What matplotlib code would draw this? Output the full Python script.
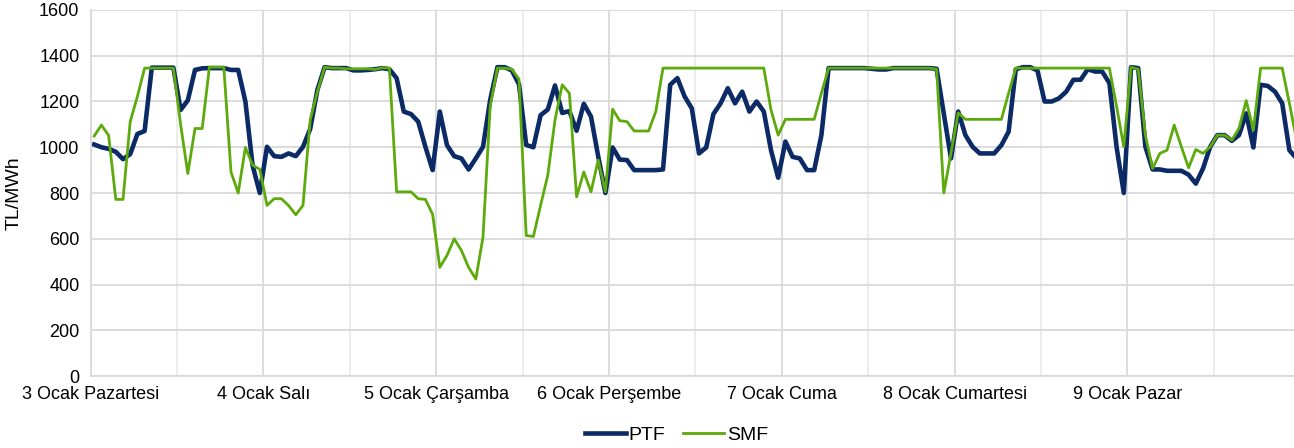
import numpy as np
import matplotlib.pyplot as plt

plt.rcParams['font.family'] = ['Liberation Sans', 'DejaVu Sans']

# gün etiketleri (her gün 24 saat)
days = ['3 Ocak Pazartesi', '4 Ocak Salı', '5 Ocak Çarşamba', '6 Ocak Perşembe',
        '7 Ocak Cuma', '8 Ocak Cumartesi', '9 Ocak Pazar']

# saatlik PTF (TL/MWh)
ptf = [1012, 1000, 993, 980, 948, 970, 1058, 1071, 1348, 1348, 1348, 1348,
       1163, 1205, 1338, 1345, 1346, 1346, 1346, 1338, 1338, 1200, 920, 800,
       1002, 961, 958, 973, 961, 1002, 1080, 1251, 1350, 1346, 1346, 1346,
       1336, 1336, 1338, 1341, 1346, 1341, 1302, 1156, 1145, 1112, 1002, 900,
       1156, 1009, 961, 951, 903, 951, 1002, 1207, 1350, 1350, 1336, 1275,
       1010, 1000, 1140, 1165, 1270, 1150, 1158, 1072, 1190, 1134, 960, 800,
       999, 946, 944, 900, 900, 900, 900, 903, 1273, 1302, 1222, 1170,
       973, 999, 1145, 1192, 1258, 1192, 1243, 1156, 1200, 1156, 987, 867,
       1025, 958, 951, 900, 900, 1053, 1346, 1346, 1346, 1346, 1346, 1346,
       1343, 1340, 1340, 1346, 1346, 1346, 1346, 1346, 1346, 1343, 1148, 951,
       1156, 1053, 1002, 973, 973, 973, 1009, 1068, 1341, 1350, 1350, 1336,
       1200, 1200, 1214, 1243, 1295, 1295, 1341, 1331, 1331, 1280, 1000, 800,
       1350, 1346, 1002, 903, 903, 897, 897, 897, 880, 841, 907, 1002,
       1053, 1053, 1028, 1053, 1148, 999, 1273, 1268, 1243, 1192, 987, 951]

# saatlik SMF (TL/MWh)
smf = [1049, 1097, 1052, 772, 772, 1112, 1222, 1346, 1346, 1346, 1346, 1346,
       1100, 885, 1082, 1082, 1350, 1350, 1350, 892, 800, 999, 922, 903,
       746, 775, 775, 745, 705, 746, 1120, 1243, 1350, 1346, 1346, 1343,
       1343, 1343, 1343, 1340, 1348, 1346, 805, 805, 805, 775, 772, 707,
       475, 527, 600, 549, 475, 424, 607, 1180, 1346, 1346, 1341, 1298,
       614, 610, 746, 878, 1119, 1273, 1236, 783, 892, 805, 944, 805,
       1166, 1116, 1112, 1071, 1071, 1071, 1156, 1346, 1346, 1346, 1346, 1346,
       1346, 1346, 1346, 1346, 1346, 1346, 1346, 1346, 1346, 1346, 1163, 1053,
       1122, 1122, 1122, 1122, 1122, 1236, 1346, 1346, 1346, 1346, 1346, 1346,
       1346, 1346, 1346, 1346, 1346, 1346, 1346, 1346, 1346, 1341, 800, 975,
       1150, 1122, 1122, 1122, 1122, 1122, 1122, 1236, 1346, 1346, 1346, 1346,
       1346, 1346, 1346, 1346, 1346, 1346, 1346, 1346, 1346, 1346, 1178, 1002,
       1350, 1341, 1053, 907, 973, 987, 1097, 1002, 910, 990, 973, 1002,
       1053, 1053, 1031, 1083, 1204, 1075, 1346, 1346, 1346, 1346, 1192, 1031]

hours = np.arange(len(ptf))

fig = plt.figure(figsize=(12.94, 4.48), dpi=100)
# grafik alanı sağda resmin biraz dışına taşıyor (orijinal kırpılmış)
ax = fig.add_axes([90.6 / 1294, 72 / 448, 1209.6 / 1294, 366 / 448])

ax.plot(hours, ptf, color='#0B2A66', lw=3.3, label='PTF')
ax.plot(hours, smf, color='#5DAA0C', lw=2.0, label='SMF')

ax.set_xlim(-0.5, 167.5)
ax.set_ylim(0, 1600)
ax.set_yticks(range(0, 1601, 200))
ax.set_xticks(np.arange(len(days)) * 24 - 0.5)
ax.set_xticklabels(days)
ax.set_xticks(np.arange(len(days)) * 24 + 11.5, minor=True)

ax.grid(which='major', color='#d9d9d9', lw=1.3)
ax.grid(which='minor', axis='x', color='#ebebeb', lw=1.3)
ax.set_axisbelow(True)
ax.tick_params(which='both', length=0, labelsize=13, colors='black')
ax.tick_params(axis='x', pad=7)
ax.tick_params(axis='y', pad=8)

for s in ['top', 'right']:
    ax.spines[s].set_visible(False)
ax.spines['left'].set_color('#d9d9d9')
ax.spines['bottom'].set_color('#d9d9d9')
ax.spines['left'].set_linewidth(1.3)
ax.spines['bottom'].set_linewidth(1.3)

ax.set_ylabel('TL/MWh', fontsize=14, labelpad=12)

fig.legend(loc='center', bbox_to_anchor=(0.5227, 0.029), ncol=2, frameon=False,
           fontsize=14, handlelength=2.1, columnspacing=0.9, handletextpad=0.15)

fig.savefig('out.png', dpi=100)
